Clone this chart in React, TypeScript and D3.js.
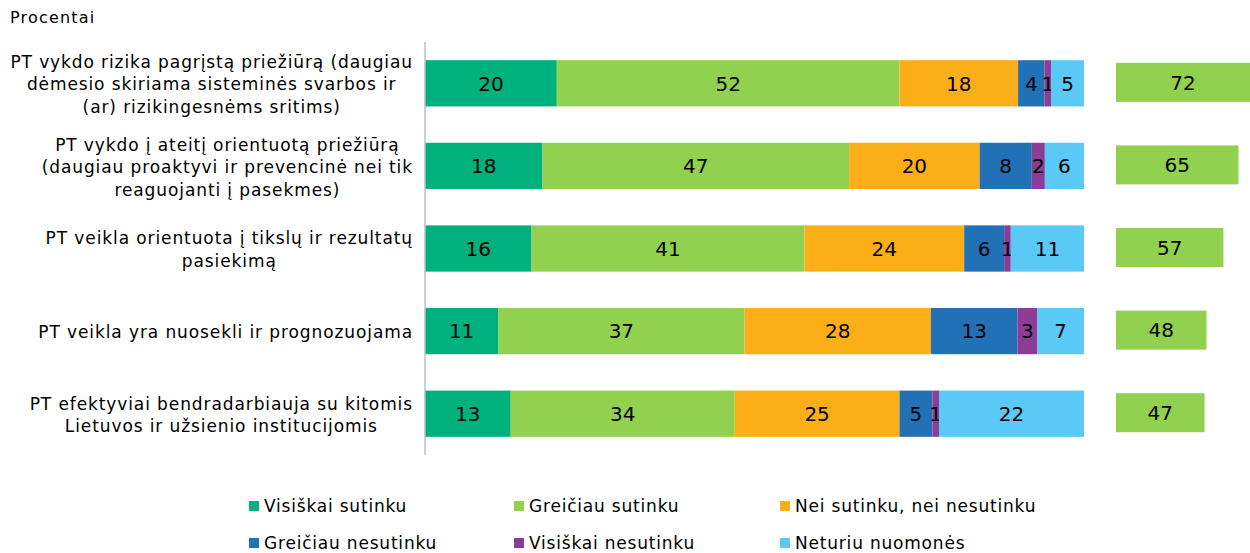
import React, { useEffect, useRef } from "react";
import * as d3 from "d3";

const categories: string[][] = [
  ["PT vykdo rizika pagrįstą priežiūrą (daugiau", "dėmesio skiriama sisteminės svarbos ir", "(ar) rizikingesnėms sritims)"],
  ["PT vykdo į ateitį orientuotą priežiūrą", "(daugiau proaktyvi ir prevencinė nei tik", "reaguojanti į pasekmes)"],
  ["PT veikla orientuota į tikslų ir rezultatų", "pasiekimą"],
  ["PT veikla yra nuosekli ir prognozuojama"],
  ["PT efektyviai bendradarbiauja su kitomis", "Lietuvos ir užsienio institucijomis"],
];

const seriesNames = [
  "Visiškai sutinku",
  "Greičiau sutinku",
  "Nei sutinku, nei nesutinku",
  "Greičiau nesutinku",
  "Visiškai nesutinku",
  "Neturiu nuomonės",
];
const seriesColors = ["#00B17D", "#92D050", "#FCAE19", "#2271B6", "#8D3C97", "#5BC9F5"];

const visiskaiSutinku = [20, 18, 16, 11, 13];
const greiciauSutinku = [52, 47, 41, 37, 34];
const neiSutinku = [18, 20, 24, 28, 25];
const greiciauNesutinku = [4, 8, 6, 13, 5];
const visiskaiNesutinku = [1, 2, 1, 3, 1];
const neturiuNuomones = [5, 6, 11, 7, 22];
const sutinkuTotal = [72, 65, 57, 48, 47];

const series = [visiskaiSutinku, greiciauSutinku, neiSutinku, greiciauNesutinku, visiskaiNesutinku, neturiuNuomones];

const FONT = "Verdana, 'DejaVu Sans', sans-serif";

export default function App() {
  const ref = useRef<SVGSVGElement>(null);
  useEffect(() => {
    const svg = d3.select(ref.current);
    svg.selectAll("*").remove();
    const x0 = 425, x1 = 1084;
    const y = d3.scaleBand<number>().domain(d3.range(categories.length)).range([42, 455]).paddingInner(0.44).paddingOuter(0.22);
    const xr = d3.scaleLinear().domain([0, 100]).range([1116, 1116 + 188.5]);

    svg.append("text").attr("x", 10).attr("y", 23).attr("font-size", 16).attr("letter-spacing", 1.2)
      .attr("font-family", FONT).attr("fill", "#000").text("Procentai");

    categories.forEach((lines, i) => {
      const rows = series.map(s => s[i]);
      const total = d3.sum(rows);
      const x = d3.scaleLinear().domain([0, total]).range([x0, x1]);
      let acc = 0;
      const by = y(i)!;
      const bh = y.bandwidth();
      rows.forEach((v, k) => {
        svg.append("rect").attr("x", x(acc)).attr("y", by).attr("width", x(acc + v) - x(acc)).attr("height", bh).attr("fill", seriesColors[k]);
        svg.append("text").attr("x", (x(acc) + x(acc + v)) / 2).attr("y", by + bh / 2).attr("dy", "0.36em")
          .attr("text-anchor", "middle").attr("font-size", 20).attr("font-family", FONT).attr("fill", "#000").text(v);
        acc += v;
      });
      const rh = 39;
      const ry = by + bh / 2 - rh / 2 - 1;
      svg.append("rect").attr("x", xr(0)).attr("y", ry).attr("width", xr(sutinkuTotal[i]) - xr(0)).attr("height", rh).attr("fill", seriesColors[1]);
      svg.append("text").attr("x", Math.min((xr(0) + xr(sutinkuTotal[i])) / 2, 1183)).attr("y", ry + rh / 2).attr("dy", "0.36em")
        .attr("text-anchor", "middle").attr("font-size", 20).attr("font-family", FONT).attr("fill", "#000").text(sutinkuTotal[i]);

      const g = svg.append("g");
      const lh = 22.5;
      const cy = by + bh / 2 + 1;
      const texts = lines.map((l, j) => g.append("text").attr("font-size", 17).attr("letter-spacing", 0.9).attr("font-family", FONT).attr("fill", "#000")
        .attr("text-anchor", "middle").attr("y", cy + (j - (lines.length - 1) / 2) * lh).attr("dy", "0.36em").text(l));
      const maxW = d3.max(texts, t => (t.node() as SVGTextElement).getComputedTextLength()) || 0;
      texts.forEach(t => t.attr("x", 413 - maxW / 2));
    });

    svg.append("line").attr("x1", x0).attr("x2", x0).attr("y1", 42).attr("y2", 455).attr("stroke", "#BFBFBF").attr("stroke-width", 1.5);

    const legX = [249, 514, 780];
    const legY = [506, 543];
    seriesNames.forEach((n, k) => {
      const lx = legX[k % 3], ly = legY[Math.floor(k / 3)];
      svg.append("rect").attr("x", lx).attr("y", ly - 5).attr("width", 10).attr("height", 10).attr("fill", seriesColors[k]);
      svg.append("text").attr("x", lx + 15).attr("y", ly).attr("dy", "0.36em").attr("font-size", 17).attr("letter-spacing", 0.8)
        .attr("font-family", FONT).attr("fill", "#000").text(n);
    });
  }, []);
  return <svg ref={ref} width={1250} height={553} style={{ position: "absolute", left: 0, top: 0, background: "#fff" }} />;
}
